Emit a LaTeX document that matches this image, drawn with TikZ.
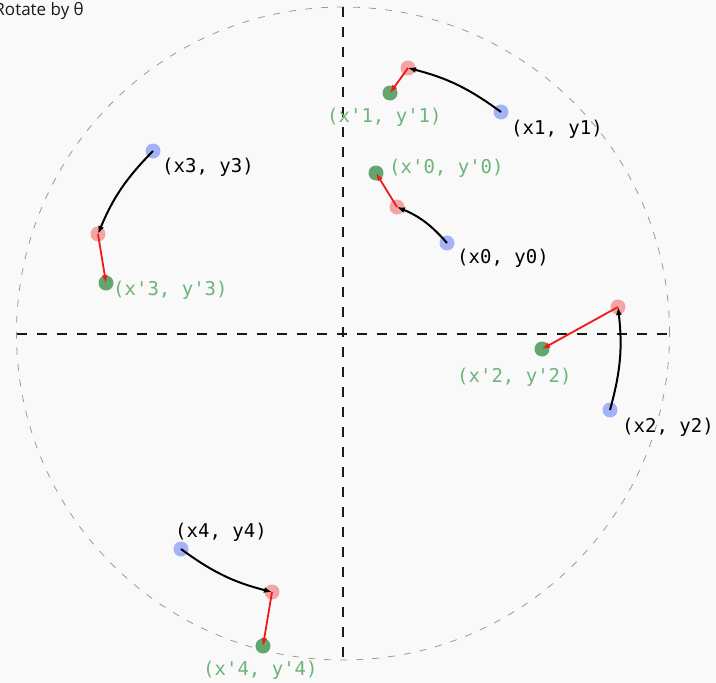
\documentclass[tikz,border=0pt]{standalone}
\usepackage{fontspec}
\setmainfont{Open Sans}
\setmonofont{DejaVu Sans Mono}
\usetikzlibrary{arrows.meta}
\definecolor{bgcol}{HTML}{F9F9F9}
\definecolor{ptblue}{HTML}{A3B3F5}
\definecolor{ptred}{HTML}{F5A3A3}
\definecolor{ptgreen}{HTML}{62A56E}
\definecolor{txtgreen}{HTML}{6DB47C}
\definecolor{ringgray}{HTML}{9A9A9A}
\definecolor{arrred}{HTML}{F01818}

\begin{document}
\begin{tikzpicture}[x=1pt, y=-1pt,
	dot/.style={circle, inner sep=0pt, minimum size=15pt},
	oldpt/.style={dot, fill=ptblue},
	midpt/.style={dot, fill=ptred},
	newpt/.style={dot, fill=ptgreen},
	lbl/.style={anchor=west, inner sep=0pt, font=\ttfamily\fontsize{19}{22}\selectfont},
	lblnew/.style={lbl, text=txtgreen},
	rotarrow/.style={-{Latex[length=8pt,width=6pt]}, line width=2pt, bend right=11},
	transarrow/.style={-{Latex[length=8pt,width=6pt]}, arrred, line width=1.8pt}
	]
	\fill[bgcol] (0,0) rectangle (716,683);
	\useasboundingbox (0,0) rectangle (716,683);
	
	% title
	\node[anchor=base east, inner sep=0pt, text=black!90, font=\fontsize{17}{20}\selectfont] (title) at (84,15) {Rotate by θ};
	
	% circle and axes
	\draw[ringgray, line width=0.8pt, dash pattern=on 7pt off 9pt] (343,333.5) circle (326.5pt);
	\draw[black!90, line width=2pt, dash pattern=on 10pt off 10pt] (343,7) -- (343,660);
	\draw[black!90, line width=2pt, dash pattern=on 10pt off 10pt] (17,333.5) -- (669,333.5);
	
	% points
	\node[oldpt] (b0) at (447,243) {};
	\node[midpt] (r0) at (397,207) {};
	\node[newpt] (g0) at (376,173) {};
	\node[oldpt] (b1) at (501,112) {};
	\node[midpt] (r1) at (408,68) {};
	\node[newpt] (g1) at (390,93) {};
	\node[oldpt] (b2) at (610,410) {};
	\node[midpt] (r2) at (618,307) {};
	\node[newpt] (g2) at (542,349) {};
	\node[oldpt] (b3) at (153,151) {};
	\node[midpt] (r3) at (98,234) {};
	\node[newpt] (g3) at (106,283) {};
	\node[oldpt] (b4) at (181,549) {};
	\node[midpt] (r4) at (272,592) {};
	\node[newpt] (g4) at (263,646) {};
	
	% labels
	\node[lbl] (l0) at (457,258) {(x0, y0)};
	\node[lblnew] (n0) at (389,168) {(x'0, y'0)};
	\node[lbl] (l1) at (511,129) {(x1, y1)};
	\node[lblnew] (n1) at (327,117) {(x'1, y'1)};
	\node[lbl] (l2) at (622,427) {(x2, y2)};
	\node[lblnew] (n2) at (457,377) {(x'2, y'2)};
	\node[lbl] (l3) at (162,167) {(x3, y3)};
	\node[lblnew] (n3) at (113,290) {(x'3, y'3)};
	\node[lbl] (l4) at (175,532) {(x4, y4)};
	\node[lblnew] (n4) at (203,670) {(x'4, y'4)};
	
	% rotation, then move
	\draw[rotarrow, bend right=13] (b0.center) to (r0.center);
	\draw[rotarrow] (b1.center) to (r1.center);
	\draw[rotarrow] (b2.center) to (r2.center);
	\draw[rotarrow] (b3.center) to (r3.center);
	\draw[rotarrow] (b4.center) to (r4.center);
	\foreach \i in {0,...,4}
		\draw[transarrow] (r\i.center) -- (g\i.center);
\end{tikzpicture}
\end{document}
